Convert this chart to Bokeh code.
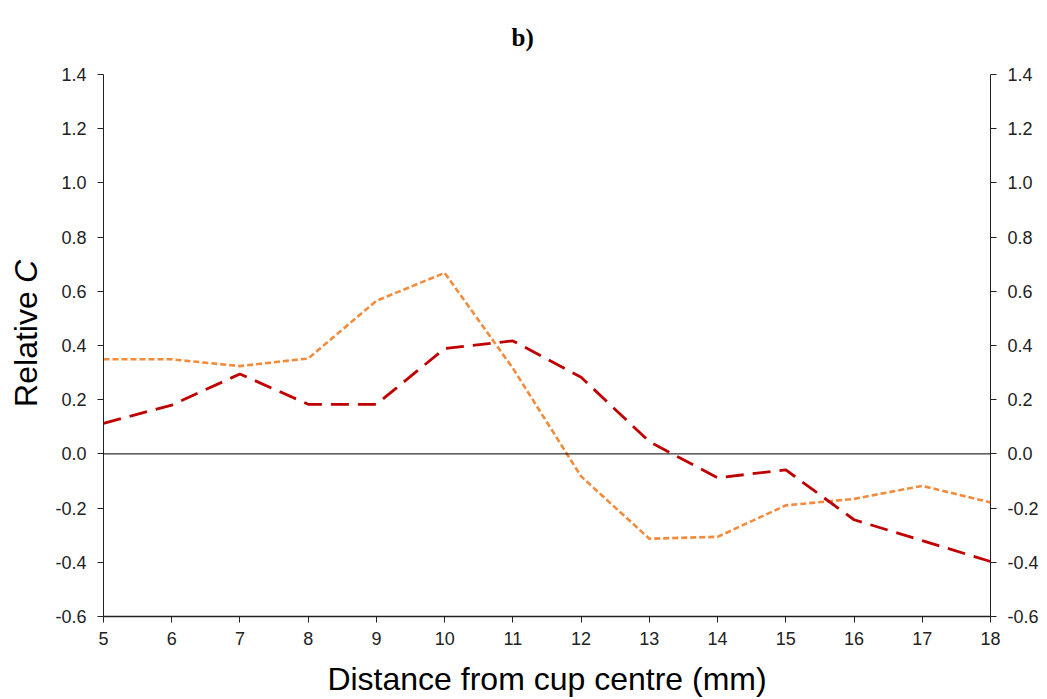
import math
from bokeh.plotting import figure
from bokeh.layouts import row
from bokeh.models import Range1d, LinearAxis, Span, FixedTicker, Title
from bokeh.core.properties import value
from bokeh.embed import file_html
from bokeh.resources import INLINE

distance_mm = [5, 6, 7, 8, 9, 10, 11, 12, 13, 14, 15, 16, 17, 18]
series_red = [0.113, 0.180, 0.295, 0.183, 0.183, 0.389, 0.417, 0.283, 0.045, -0.088, -0.059, -0.243, -0.320, -0.397]
series_orange = [0.349, 0.349, 0.324, 0.352, 0.565, 0.668, 0.316, -0.083, -0.313, -0.306, -0.190, -0.166, -0.118, -0.179]
y_ticks = [-0.6, -0.4, -0.2, 0.0, 0.2, 0.4, 0.6, 0.8, 1.0, 1.2, 1.4]
y_tick_labels = {v: f"{v:.1f}" for v in y_ticks}
title_text = "b)"
x_label = "Distance from cup centre (mm)"
y_label_parts = ["Relative ", "C"]
y_label_styles = ["normal", "italic"]

FONT = "Liberation Sans"
TICK_COLOR = "#222222"
W_LABEL = 50
H = 699
FRAME_TOP, FRAME_BOTTOM = 74, 617

# --- narrow strip holding the y-axis title (mixed upright / italic) ---
# its frame is aligned with the main frame by the row layout; y is in page pixels from the bottom
lab = figure(width=W_LABEL, height=H, output_backend="svg", toolbar_location=None,
             x_range=Range1d(0, W_LABEL), y_range=Range1d(H - FRAME_BOTTOM, H - FRAME_TOP),
             min_border=0, x_axis_location=None, y_axis_location=None)
lab.grid.visible = False
lab.outline_line_color = None
lab.background_fill_color = "white"
lab.border_fill_color = "white"
y_start = [H - 407, H - 283]
for part, style, ys in zip(y_label_parts, y_label_styles, y_start):
    lab.text(x=[25], y=[ys], text=[part], angle=math.pi / 2,
             text_font=value(FONT), text_font_size=value("32px"), text_font_style=value(style),
             text_align="left", text_baseline="middle", text_color="black")

# --- main chart ---
p = figure(width=1047 - W_LABEL, height=H, output_backend="svg", toolbar_location=None,
           x_range=Range1d(5, 18), y_range=Range1d(-0.6, 1.4),
           min_border_left=103 - W_LABEL, min_border_right=57,
           min_border_top=FRAME_TOP, min_border_bottom=H - FRAME_BOTTOM)
p.outline_line_color = None
p.xgrid.visible = False
p.ygrid.visible = False
p.background_fill_color = "white"
p.border_fill_color = "white"

p.title = Title(text=title_text, text_font="Liberation Serif", text_font_size="25px",
                text_font_style="bold", align="left", offset=408, standoff=43,
                vertical_align="top", text_color="black")

xa = p.xaxis[0]
xa.ticker = FixedTicker(ticks=distance_mm)
xa.major_label_text_font = FONT
xa.major_label_text_font_size = "18px"
xa.major_label_text_color = TICK_COLOR
xa.major_tick_in = 0
xa.major_tick_out = 6
xa.minor_tick_in = 0
xa.minor_tick_out = 0
xa.major_label_standoff = 9
xa.axis_line_width = 1.6
xa.axis_line_color = "#222222"
xa.major_tick_line_color = "#222222"
xa.axis_label = x_label
xa.axis_label_text_font = FONT
xa.axis_label_text_font_size = "32px"
xa.axis_label_text_font_style = "normal"
xa.axis_label_text_color = "black"
xa.axis_label_standoff = 13

ya = p.yaxis[0]
ya.ticker = FixedTicker(ticks=y_ticks)
ya.major_label_overrides = y_tick_labels
ya.major_label_text_font = FONT
ya.major_label_text_font_size = "18px"
ya.major_label_text_color = TICK_COLOR
ya.major_tick_in = 0
ya.major_tick_out = 6
ya.minor_tick_in = 0
ya.minor_tick_out = 0
ya.major_label_standoff = 11
ya.axis_line_color = "#222222"
ya.major_tick_line_color = "#222222"

yr = LinearAxis(ticker=FixedTicker(ticks=y_ticks))
yr.major_label_overrides = y_tick_labels
yr.major_label_text_font = FONT
yr.major_label_text_font_size = "18px"
yr.major_label_text_color = TICK_COLOR
yr.major_tick_in = 0
yr.major_tick_out = 6
yr.minor_tick_in = 0
yr.minor_tick_out = 0
yr.major_label_standoff = 11
yr.axis_line_color = "#222222"
yr.major_tick_line_color = "#222222"
p.add_layout(yr, "right")

p.add_layout(Span(location=0, dimension="width", line_color="black", line_width=1))

p.line(distance_mm, series_orange, line_color="#F28C3C", line_width=2.6, line_dash="6 3")
p.line(distance_mm, series_red, line_color="#C00000", line_width=2.8, line_dash="18 9")

layout = row(lab, p, spacing=0)
open("out.html", "w").write(file_html(layout, INLINE))
